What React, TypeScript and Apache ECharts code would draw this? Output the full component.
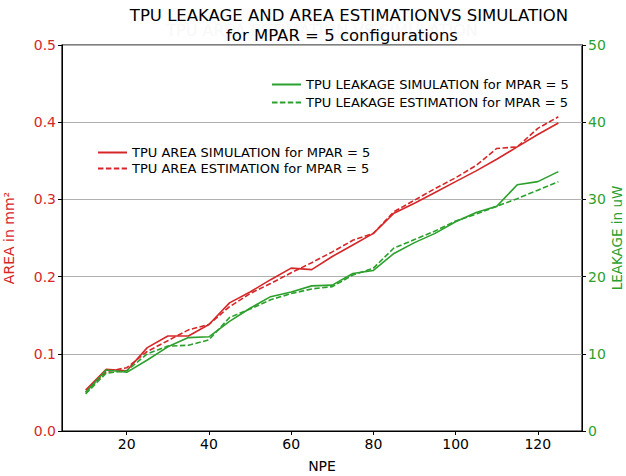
import React, { useEffect, useRef } from "react";
import * as echarts from "echarts";

const npe = [10, 15, 20, 25, 30, 35, 40, 45, 50, 55, 60, 65, 70, 75, 80, 85, 90, 95, 100, 105, 110, 115, 120, 125];
const areaSim = [0.053, 0.080, 0.078, 0.108, 0.123, 0.123, 0.138, 0.166, 0.180, 0.196, 0.211, 0.209, 0.226, 0.241, 0.256, 0.282, 0.295, 0.309, 0.323, 0.337, 0.352, 0.368, 0.384, 0.399];
const areaEst = [0.050, 0.077, 0.082, 0.103, 0.117, 0.131, 0.138, 0.161, 0.178, 0.191, 0.205, 0.218, 0.232, 0.247, 0.256, 0.284, 0.299, 0.314, 0.328, 0.344, 0.366, 0.368, 0.392, 0.407];
const leakSim = [5.0, 7.9, 7.6, 9.2, 10.9, 12.1, 12.2, 14.2, 15.9, 17.4, 18.0, 18.8, 18.9, 20.4, 20.8, 23.0, 24.4, 25.6, 27.1, 28.3, 29.1, 31.9, 32.3, 33.6];
const leakEst = [4.8, 7.5, 7.8, 10.0, 11.0, 11.1, 11.8, 14.7, 15.8, 17.0, 17.8, 18.4, 18.7, 20.2, 21.1, 23.7, 24.8, 25.9, 27.2, 28.1, 29.1, 30.1, 31.2, 32.3];
const xTicks = [20, 40, 60, 80, 100, 120];

const RED = "#d62728";
const GREEN = "#2ca02c";
const FONT = "DejaVu Sans";

export default function App() {
  const ref = useRef<HTMLDivElement>(null);
  useEffect(() => {
    if (!ref.current) return;
    const chart = echarts.init(ref.current, null, { renderer: "svg" });
    const pairs = (ys: number[]) => npe.map((x, i) => [x, ys[i]]);
    const dash = [5.5, 2.4];
    const legendCommon = {
      orient: "vertical", itemWidth: 29, itemHeight: 10,
      itemStyle: { opacity: 0 },
      textStyle: { fontFamily: FONT, fontSize: 13, color: "#000" },
    };
    chart.setOption({
      animation: false,
      backgroundColor: "#ffffff",
      textStyle: { fontFamily: FONT },
      grid: { left: 62, right: 44, top: 45, bottom: 45, outerBoundsMode: "none", containLabel: false, show: true, borderColor: "#000", borderWidth: 1.2, backgroundColor: "transparent" },
      graphic: [
        { type: "text", x: 322, y: 30, z: 0, style: { text: "TPU AREA ESTIMATION VS SIMULATION", fill: "#f8f8f8", font: `16px ${FONT}`, textAlign: "center", textVerticalAlign: "middle" } },
        { type: "text", x: 349, y: 15, z: 10, style: { text: "TPU LEAKAGE AND AREA ESTIMATIONVS SIMULATION", fill: "#000", font: `16.5px ${FONT}`, textAlign: "center", textVerticalAlign: "middle" } },
        { type: "text", x: 342, y: 35, z: 10, style: { text: "for MPAR = 5 configurations", fill: "#000", font: `16.5px ${FONT}`, textAlign: "center", textVerticalAlign: "middle" } },
        { type: "text", x: 617, y: 238, rotation: Math.PI / 2, z: 10, style: { text: "LEAKAGE in uW", fill: GREEN, font: `13.5px ${FONT}`, textAlign: "center", textVerticalAlign: "middle" } },
      ],
      legend: [
        {
          ...legendCommon, left: 266, top: 73, itemGap: 5,
          data: ["TPU LEAKAGE SIMULATION for MPAR = 5", "TPU LEAKAGE ESTIMATION for MPAR = 5"],
        },
        {
          ...legendCommon, left: 92, top: 141, itemGap: 3,
          data: ["TPU AREA SIMULATION for MPAR = 5", "TPU AREA ESTIMATION for MPAR = 5"],
        },
      ],
      xAxis: {
        type: "value", min: 4.25, max: 130.75,
        name: "NPE", nameLocation: "middle", nameGap: 28,
        nameTextStyle: { fontFamily: FONT, fontSize: 14, color: "#000" },
        axisLine: { show: true, lineStyle: { color: "#000" } },
        axisTick: { show: true, length: 4, lineStyle: { color: "#000" }, customValues: xTicks },
        axisLabel: { fontFamily: FONT, fontSize: 14, color: "#000", margin: 6, customValues: xTicks },
        splitLine: { show: false },
      },
      yAxis: [
        {
          type: "value", min: 0, max: 0.5, interval: 0.1, position: "left",
          name: "AREA in mm²", nameLocation: "middle", nameGap: 46,
          nameTextStyle: { fontFamily: FONT, fontSize: 14, color: RED },
          axisLine: { show: true, lineStyle: { color: "#000" } },
          axisTick: { show: true, length: 4, lineStyle: { color: "#000" } },
          axisLabel: { fontFamily: FONT, fontSize: 14, color: RED, margin: 6, formatter: (v: number) => v.toFixed(1) },
          splitLine: { show: true, lineStyle: { color: "#b0b0b0", width: 1 } },
        },
        {
          type: "value", min: 0, max: 50, interval: 10, position: "right",
          axisLine: { show: true, lineStyle: { color: "#000" } },
          axisTick: { show: true, length: 4, lineStyle: { color: "#000" } },
          axisLabel: { fontFamily: FONT, fontSize: 14, color: GREEN, margin: 6 },
          splitLine: { show: false },
        },
      ],
      series: [
        { name: "TPU AREA SIMULATION for MPAR = 5", type: "line", yAxisIndex: 0, symbol: "none", data: pairs(areaSim), color: RED, lineStyle: { color: RED, width: 1.6 } },
        { name: "TPU AREA ESTIMATION for MPAR = 5", type: "line", yAxisIndex: 0, symbol: "none", data: pairs(areaEst), color: RED, lineStyle: { color: RED, width: 1.6, type: dash } },
        { name: "TPU LEAKAGE SIMULATION for MPAR = 5", type: "line", yAxisIndex: 1, symbol: "none", data: pairs(leakSim), color: GREEN, lineStyle: { color: GREEN, width: 1.6 } },
        { name: "TPU LEAKAGE ESTIMATION for MPAR = 5", type: "line", yAxisIndex: 1, symbol: "none", data: pairs(leakEst), color: GREEN, lineStyle: { color: GREEN, width: 1.6, type: dash } },
      ],
    });
    return () => chart.dispose();
  }, []);
  return <div ref={ref} style={{ width: 626, height: 476, position: "fixed", left: 0, top: 0 }} />;
}
